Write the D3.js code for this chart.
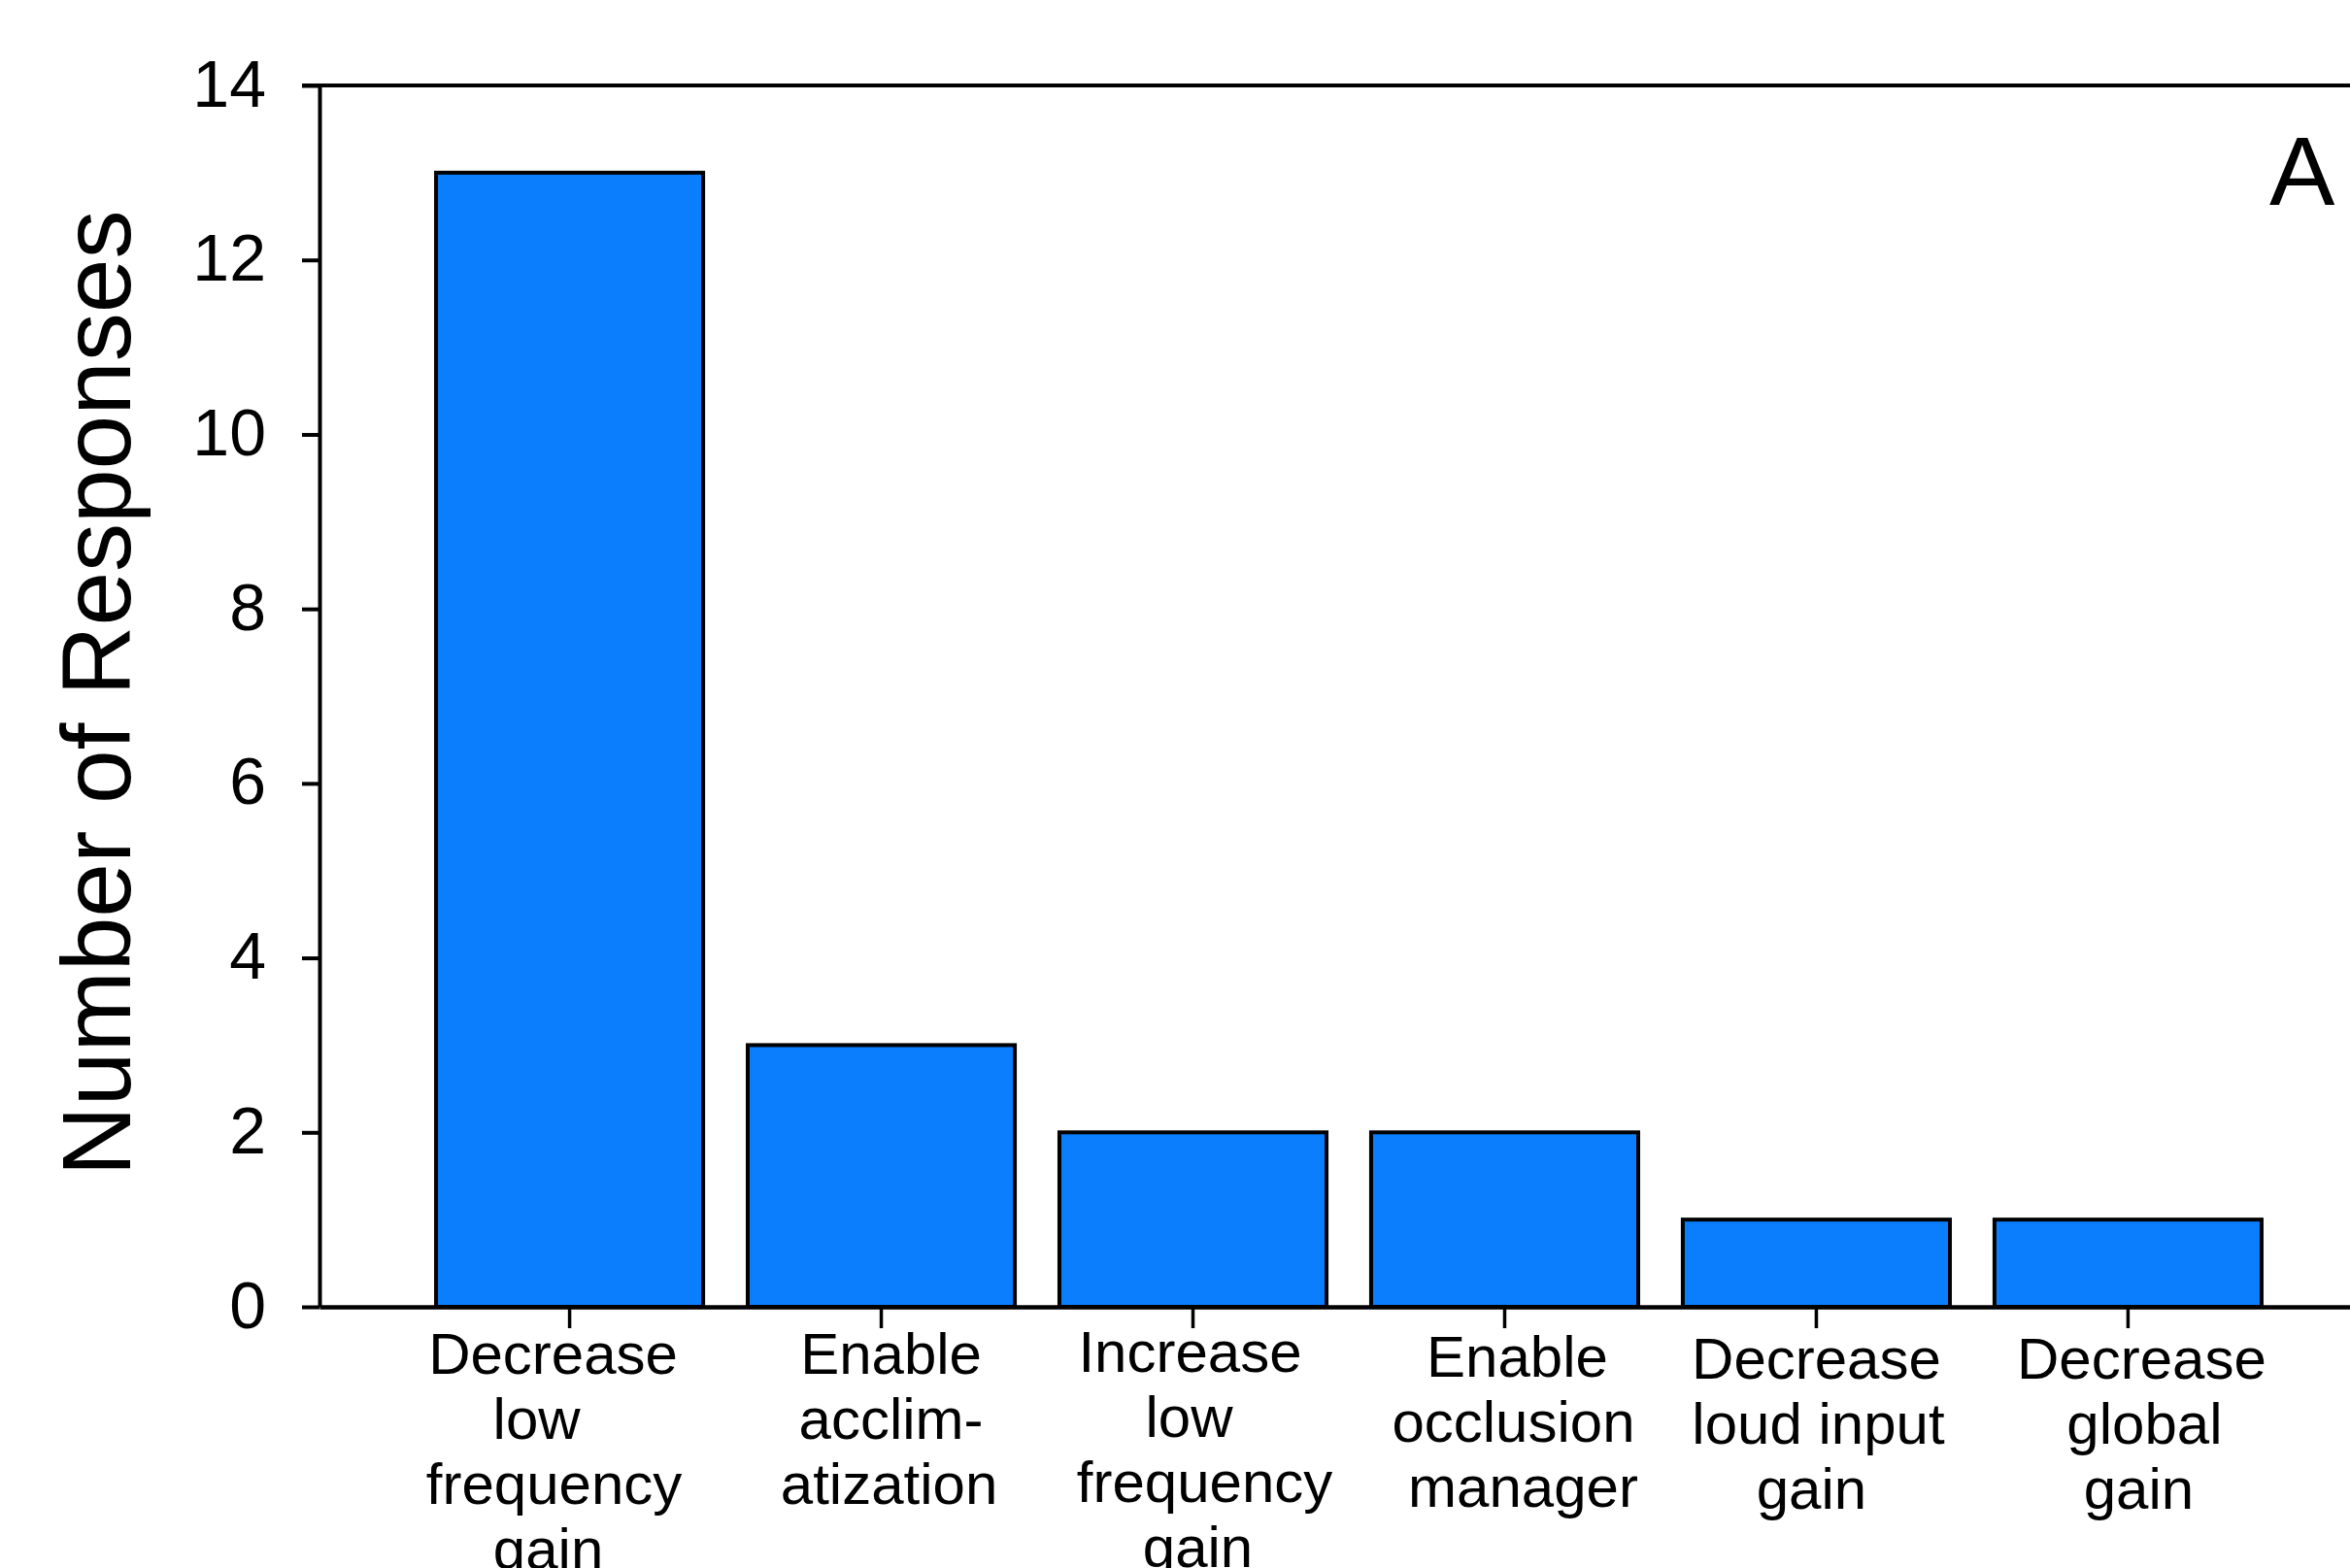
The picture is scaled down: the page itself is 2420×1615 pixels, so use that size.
<!DOCTYPE html>
<html>
<head>
<meta charset="utf-8">
<script src="https://cdn.jsdelivr.net/npm/d3@7"></script>
<style>
  html, body { margin: 0; padding: 0; background: #ffffff; }
  svg { display: block; }
  text { font-family: "Liberation Sans", Arial, Helvetica, sans-serif; fill: #000; }
</style>
</head>
<body>
<svg id="chart" width="2420" height="1615"></svg>
<script>
// ---- data ----
const categories = [
  "Decrease\nlow\nfrequency\ngain",
  "Enable\nacclim-\natization",
  "Increase\nlow\nfrequency\ngain",
  "Enable\nocclusion\nmanager",
  "Decrease\nloud input\ngain",
  "Decrease\nglobal\ngain"
];
const values = [13, 3, 2, 2, 1, 1];
const yTicks = [0, 2, 4, 6, 8, 10, 12, 14];
const yTitle = "Number of Responses";
const panelLabel = "A";

// small per-line label nudges (px) to follow the reference placement
const labelNudgeX = [[-17, -34, -16, -22], [10, 10, 8], [-3, -4, 12, 5], [13, 9, 19], [0, 2, -5], [14, 17, 11]];
const labelNudgeY = [0, 0, -2, 3, 5, 5];

// ---- layout ----
const svg = d3.select("#chart");
const x0 = 329, x1 = 2449, yBase = 1346, yTop = 88;

const x = d3.scaleBand()
  .domain(categories)
  .range([x0, x1])
  .paddingInner(0.143)
  .paddingOuter(0.374);

const y = d3.scaleLinear()
  .domain([0, 14])
  .range([yBase, yTop]);

// bars
svg.append("g")
  .selectAll("rect")
  .data(values)
  .join("rect")
  .attr("x", (d, i) => x(categories[i]))
  .attr("y", d => y(d))
  .attr("width", x.bandwidth())
  .attr("height", d => y(0) - y(d))
  .attr("fill", "#0a7efd")
  .attr("stroke", "#000")
  .attr("stroke-width", 4);

// top frame line
svg.append("line")
  .attr("x1", x0 - 18).attr("x2", 2420)
  .attr("y1", y(14)).attr("y2", y(14))
  .attr("stroke", "#000").attr("stroke-width", 4);

// y axis
const yAxis = svg.append("g")
  .attr("transform", `translate(${x0},0)`)
  .call(d3.axisLeft(y).tickValues(yTicks).tickSize(18).tickSizeOuter(0).tickPadding(37));
yAxis.select(".domain").attr("stroke", "#000").attr("stroke-width", 4);
yAxis.selectAll(".tick line").attr("stroke", "#000").attr("stroke-width", 4);
yAxis.selectAll(".tick text")
  .attr("font-size", 68)
  .attr("font-family", "'Liberation Sans', Arial, sans-serif")
  .attr("fill", "#000")
  .attr("dy", "0.31em");

// x axis
const xAxis = svg.append("g")
  .attr("transform", `translate(0,${yBase})`)
  .call(d3.axisBottom(x).tickSize(22).tickSizeOuter(0).tickFormat(""));
xAxis.select(".domain").attr("stroke", "#000").attr("stroke-width", 4.5);
xAxis.selectAll(".tick line").attr("stroke", "#000").attr("stroke-width", 3.5);

// multiline x labels
const lab = svg.append("g");
categories.forEach((c, i) => {
  const cx = x(c) + x.bandwidth() / 2;
  const t = lab.append("text")
    .attr("text-anchor", "middle")
    .attr("font-size", 60)
    .attr("x", cx)
    .attr("y", 1415 + labelNudgeY[i]);
  c.split("\n").forEach((line, k) => {
    t.append("tspan")
      .attr("x", cx + labelNudgeX[i][k])
      .attr("dy", k === 0 ? 0 : 67)
      .text(line);
  });
});

// y axis title
svg.append("text")
  .attr("transform", `translate(134,714) rotate(-90)`)
  .attr("text-anchor", "middle")
  .attr("font-size", 100)
  .text(yTitle);

// panel label
svg.append("text")
  .attr("x", 2337)
  .attr("y", 211)
  .attr("font-size", 101)
  .text(panelLabel);
</script>
</body>
</html>
